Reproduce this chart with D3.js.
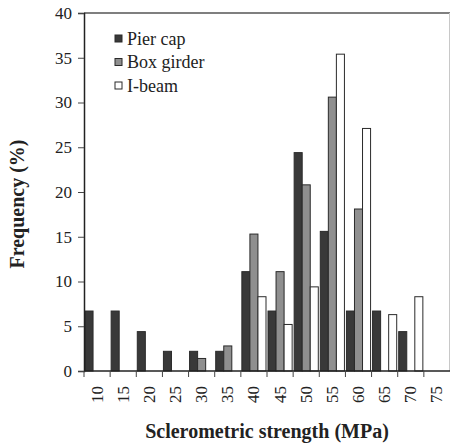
<!DOCTYPE html>
<html>
  <head>
    <meta charset="utf-8">
    <script src="https://d3js.org/d3.v7.min.js"></script>
    <style>
      body { margin: 0; background: #fff; }
      text { font-family: "Liberation Serif", "Times New Roman", serif; fill: #222; }
    </style>
  </head>
  <body>
    <div id="my_chart"></div>
    <script>
      // categories (MPa)
      var categories = ["10", "15", "20", "25", "30", "35", "40", "45", "50", "55", "60", "65", "70", "75"];
      var series = ["Pier cap", "Box girder", "I-beam"];
      // frequencies (%)
      var pierCap   = [6.7, 6.7, 4.4, 2.2, 2.2, 2.2, 11.1, 6.7, 24.4, 15.6, 6.7, 6.7, 4.4, 0];
      var boxGirder = [0, 0, 0, 0, 1.4, 2.8, 15.3, 11.1, 20.8, 30.6, 18.1, 0, 0, 0];
      var iBeam     = [0, 0, 0, 0, 0, 0, 8.3, 5.2, 9.4, 35.4, 27.1, 6.3, 8.3, 0];
      var yTicks = [0, 5, 10, 15, 20, 25, 30, 35, 40];
      var colors = ["#393939", "#8f8f8f", "#ffffff"];

      var width = 451, height = 446;
      var margin = {top: 13, right: 1, bottom: 75, left: 84};
      var innerW = width - margin.left - margin.right,
          innerH = height - margin.top - margin.bottom;

      var svg = d3.select("#my_chart").append("svg")
          .attr("width", width)
          .attr("height", height);
      var g = svg.append("g")
          .attr("transform", "translate(" + margin.left + "," + margin.top + ")");

      var data = categories.map(function(c, i) {
        return {cat: c, values: [pierCap[i], boxGirder[i], iBeam[i]]};
      });

      var x = d3.scaleBand().domain(categories).range([0, innerW]).padding(0);
      var xSub = d3.scaleBand().domain(series).range([1, x.bandwidth() - 1]).padding(0);
      var y = d3.scaleLinear().domain([0, 40]).range([innerH, 0]);

      // frame: top and right
      g.append("line").attr("x1", 0).attr("x2", innerW).attr("y1", 0).attr("y2", 0)
        .attr("stroke", "#555").attr("stroke-width", 1.5);
      g.append("line").attr("x1", innerW - 0.5).attr("x2", innerW - 0.5).attr("y1", 0).attr("y2", innerH)
        .attr("stroke", "#c8c8c8");

      // bars
      g.append("g").selectAll("g")
        .data(data)
        .enter().append("g")
          .attr("transform", function(d) { return "translate(" + x(d.cat) + ",0)"; })
        .selectAll("rect")
        .data(function(d) { return d.values.map(function(v, k) { return {key: series[k], v: v, k: k}; }).filter(function(e) { return e.v > 0; }); })
        .enter().append("rect")
          .attr("x", function(d) { return xSub(d.key); })
          .attr("y", function(d) { return y(d.v); })
          .attr("width", xSub.bandwidth())
          .attr("height", function(d) { return y(0) - y(d.v); })
          .attr("fill", function(d) { return colors[d.k]; })
          .attr("stroke", "#2a2a2a")
          .attr("stroke-width", 1);

      // y axis
      var yAxis = g.append("g")
          .call(d3.axisLeft(y).tickValues(yTicks).tickSize(6).tickPadding(6));
      yAxis.select(".domain").attr("stroke", "#222").attr("stroke-width", 1.5);
      yAxis.selectAll(".tick line").attr("stroke", "#444");
      yAxis.selectAll("text").attr("font-size", "17px").attr("fill", "#222");

      // x axis: ticks at category boundaries
      var xAxis = g.append("g").attr("transform", "translate(0," + innerH + ")");
      xAxis.append("line").attr("x1", 0).attr("x2", innerW).attr("y1", 0).attr("y2", 0)
        .attr("stroke", "#222").attr("stroke-width", 1.5);
      xAxis.selectAll(".tk")
        .data(categories)
        .enter().append("line")
          .attr("x1", function(d) { return x(d); })
          .attr("x2", function(d) { return x(d); })
          .attr("y1", 0).attr("y2", 6)
          .attr("stroke", "#444");
      xAxis.selectAll(".lb")
        .data(categories)
        .enter().append("text")
          .attr("transform", function(d) { return "translate(" + (x(d) + x.bandwidth() / 2 + 5.5) + ",15) rotate(-90)"; })
          .attr("text-anchor", "end")
          .attr("font-size", "17px")
          .text(function(d) { return d; });

      // axis titles
      svg.append("text")
        .attr("transform", "translate(24," + (margin.top + innerH / 2 + 12) + ") rotate(-90)")
        .attr("text-anchor", "middle")
        .attr("font-size", "20px")
        .attr("font-weight", "bold")
        .text("Frequency (%)");
      svg.append("text")
        .attr("x", 267)
        .attr("y", 438)
        .attr("text-anchor", "middle")
        .attr("font-size", "20px")
        .attr("font-weight", "bold")
        .text("Sclerometric strength (MPa)");

      // legend
      var legend = svg.append("g").attr("transform", "translate(115,35)");
      var items = legend.selectAll("g")
        .data(series)
        .enter().append("g")
          .attr("transform", function(d, i) { return "translate(0," + (i * 23.5) + ")"; });
      items.append("rect")
        .attr("width", 7).attr("height", 7)
        .attr("fill", function(d, i) { return colors[i]; })
        .attr("stroke", "#2a2a2a");
      items.append("text")
        .attr("x", 12).attr("y", 9.5)
        .attr("font-size", "18px")
        .text(function(d) { return d; });
    </script>
  </body>
</html>
